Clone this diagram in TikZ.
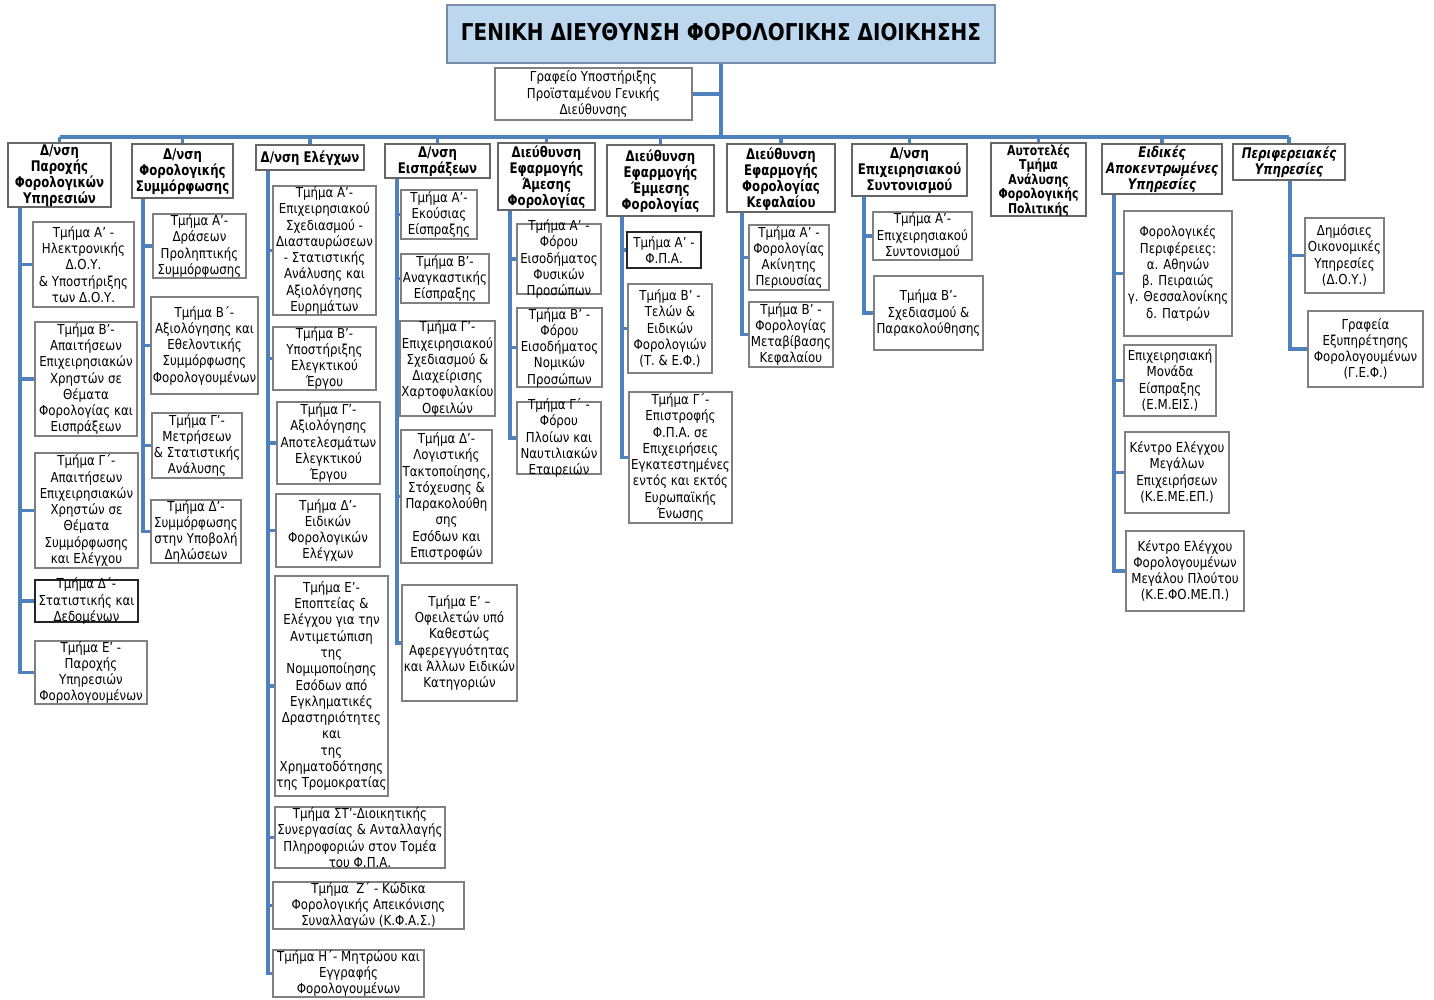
\documentclass[tikz,border=0pt]{standalone}
\usepackage{fontspec}
\setmainfont{DejaVu Sans}[FakeStretch=0.86]
\newfontfamily\hfont{DejaVu Sans}[FakeStretch=0.8]
\newfontfamily\tfont{DejaVu Sans}[FakeStretch=0.86]
\usetikzlibrary{fit}
\definecolor{conncol}{RGB}{79,129,189}
\definecolor{boxgray}{RGB}{128,128,128}
\definecolor{titlefill}{RGB}{189,215,238}
\definecolor{titleline}{RGB}{120,140,170}
\tikzset{
 box/.style={draw=boxgray, line width=1.3pt, fill=white, inner sep=0pt},
 txt/.style={inner sep=0pt, align=center, font=\fontsize{10.3}{12.2}\selectfont},
 kbox-plain/.style={box},
 kbox-blk/.style={box, draw=black!85, line width=1.1pt},
 kbox-hdr/.style={box, draw=black!60},
 kbox-hdri/.style={box, draw=black!60},
 kbox-hdr9/.style={box, draw=black!60},
 kbox-ttl/.style={box, draw=titleline, fill=titlefill},
 ktxt-plain/.style={txt},
 ktxt-blk/.style={txt},
 ktxt-hdr/.style={txt, font=\hfont\bfseries\fontsize{11}{12}\selectfont, yshift=-0.6pt},
 ktxt-hdri/.style={txt, font=\hfont\bfseries\itshape\fontsize{11}{12}\selectfont},
 ktxt-hdr9/.style={txt, font=\hfont\bfseries\fontsize{10.2}{10.8}\selectfont, yshift=-0.6pt},
 ktxt-ttl/.style={txt, font=\tfont\bfseries\fontsize{17.4}{20}\selectfont, yshift=1.5pt},
 conn/.style={draw=conncol, line width=2.3pt},
}
\newcommand\bx[7]{%
 \node[kbox-#1, fit={(#3,#4)(#5,#6)}] (#2) {};
 \node[ktxt-#1] (#2t) at (#2.center) {#7};}
\begin{document}
\begin{tikzpicture}[x=0.75pt,y=-0.75pt]
\useasboundingbox (0,0) rectangle (1434,999);
% title and office
\bx{ttl}{title}{447}{5}{995}{63}{ΓΕΝΙΚΗ ΔΙΕΥΘΥΝΣΗ ΦΟΡΟΛΟΓΙΚΗΣ ΔΙΟΙΚΗΣΗΣ}
\bx{plain}{gr}{495}{68}{692}{120}{Γραφείο Υποστήριξης\\Προϊσταμένου Γενικής\\Διεύθυνσης}
% headers
\bx{hdr}{h1}{8}{143}{111}{207}{Δ/νση\\Παροχής\\Φορολογικών\\Υπηρεσιών}
\bx{hdr}{h2}{132}{144}{233}{198}{Δ/νση\\Φορολογικής\\Συμμόρφωσης}
\bx{hdr}{h3}{256}{145}{364}{170}{Δ/νση Ελέγχων}
\bx{hdr}{h4}{385}{144}{490}{178}{Δ/νση\\Εισπράξεων}
\bx{hdr}{h5}{498}{143}{595}{210}{Διεύθυνση\\Εφαρμογής\\Άμεσης\\Φορολογίας}
\bx{hdr}{h6}{607}{145}{714}{216}{Διεύθυνση\\Εφαρμογής\\Έμμεσης\\Φορολογίας}
\bx{hdr}{h7}{727}{144}{835}{212}{Διεύθυνση\\Εφαρμογής\\Φορολογίας\\Κεφαλαίου}
\bx{hdr}{h8}{852}{144}{967}{196}{Δ/νση\\Επιχειρησιακού\\Συντονισμού}
\bx{hdr9}{h9}{991}{143}{1086}{216}{Αυτοτελές\\Τμήμα\\Ανάλυσης\\Φορολογικής\\Πολιτικής}
\bx{hdri}{h10}{1102}{144}{1222}{194}{Ειδικές\\Αποκεντρωμένες\\Υπηρεσίες}
\bx{hdri}{h11}{1233}{144}{1345}{180}{Περιφερειακές\\Υπηρεσίες}
% column 1
\bx{plain}{c11}{33}{222}{134}{307}{Τμήμα Α' -\\Ηλεκτρονικής\\Δ.Ο.Υ.\\\& Υποστήριξης\\των Δ.Ο.Υ.}
\bx{plain}{c12}{35}{322}{137}{436}{Τμήμα Β’-\\Απαιτήσεων\\Επιχειρησιακών\\Χρηστών σε\\Θέματα\\Φορολογίας και\\Εισπράξεων}
\bx{plain}{c13}{35}{453}{138}{568}{Τμήμα Γ΄-\\Απαιτήσεων\\Επιχειρησιακών\\Χρηστών σε\\Θέματα\\Συμμόρφωσης\\και Ελέγχου}
\bx{blk}{c14}{35}{580}{138}{622}{Τμήμα Δ΄-\\Στατιστικής και\\Δεδομένων}
\bx{plain}{c15}{35}{641}{147}{704}{Τμήμα Ε’ -\\Παροχής\\Υπηρεσιών\\Φορολογουμένων}
% column 2
\bx{plain}{c21}{153}{214}{246}{278}{Τμήμα Α’-\\Δράσεων\\Προληπτικής\\Συμμόρφωσης}
\bx{plain}{c22}{151}{297}{258}{394}{Τμήμα Β΄-\\Αξιολόγησης και\\Εθελοντικής\\Συμμόρφωσης\\Φορολογουμένων}
\bx{plain}{c23}{152}{413}{242}{478}{Τμήμα Γ’-\\Μετρήσεων\\\& Στατιστικής\\Ανάλυσης}
\bx{plain}{c24}{151}{500}{241}{563}{Τμήμα Δ’-\\Συμμόρφωσης\\στην Υποβολή\\Δηλώσεων}
% column 3
\bx{plain}{c31}{273}{186}{376}{315}{Τμήμα Α’-\\Επιχειρησιακού\\Σχεδιασμού -\\Διασταυρώσεων\\- Στατιστικής\\Ανάλυσης και\\Αξιολόγησης\\Ευρημάτων}
\bx{plain}{c32}{273}{327}{376}{390}{Τμήμα Β’-\\Υποστήριξης\\Ελεγκτικού\\Έργου}
\bx{plain}{c33}{277}{402}{380}{484}{Τμήμα Γ’-\\Αξιολόγησης\\Αποτελεσμάτων\\Ελεγκτικού\\Έργου}
\bx{plain}{c34}{276}{494}{380}{567}{Τμήμα Δ’-\\Ειδικών\\Φορολογικών\\Ελέγχων}
\bx{plain}{c35}{275}{576}{388}{796}{Τμήμα Ε’-\\Εποπτείας \&\\Ελέγχου για την\\Αντιμετώπιση\\της\\Νομιμοποίησης\\Εσόδων από\\Εγκληματικές\\Δραστηριότητες\\και\\της\\Χρηματοδότησης\\της Τρομοκρατίας}
\bx{plain}{c36}{275}{807}{445}{868}{Τμήμα ΣΤ’-Διοικητικής\\Συνεργασίας \& Ανταλλαγής\\Πληροφοριών στον Τομέα\\του Φ.Π.Α.}
\bx{plain}{c37}{273}{882}{464}{929}{Τμήμα\ \ Ζ΄ - Κώδικα\\Φορολογικής Απεικόνισης\\Συναλλαγών (Κ.Φ.Α.Σ.)}
\bx{plain}{c38}{273}{950}{424}{997}{Τμήμα Η΄- Μητρώου και\\Εγγραφής\\Φορολογουμένων}
% column 4
\bx{plain}{c41}{401}{190}{477}{239}{Τμήμα Α’-\\Εκούσιας\\Είσπραξης}
\bx{plain}{c42}{401}{254}{489}{303}{Τμήμα Β’-\\Αναγκαστικής\\Είσπραξης}
\bx{plain}{c43}{400}{321}{495}{416}{Τμήμα Γ’-\\Επιχειρησιακού\\Σχεδιασμού \&\\Διαχείρισης\\Χαρτοφυλακίου\\Οφειλών}
\bx{plain}{c44}{401}{430}{492}{563}{Τμήμα Δ’-\\Λογιστικής\\Τακτοποίησης,\\Στόχευσης \&\\Παρακολούθη\\σης\\Εσόδων και\\Επιστροφών}
\bx{plain}{c45}{402}{585}{517}{701}{Τμήμα Ε’ –\\Οφειλετών υπό\\Καθεστώς\\Αφερεγγυότητας\\και Άλλων Ειδικών\\Κατηγοριών}
% column 5
\bx{plain}{c51}{517}{224}{601}{294}{Τμήμα Α' -\\Φόρου\\Εισοδήματος\\Φυσικών\\Προσώπων}
\bx{plain}{c52}{517}{308}{602}{387}{Τμήμα Β' -\\Φόρου\\Εισοδήματος\\Νομικών\\Προσώπων}
\bx{plain}{c53}{517}{402}{601}{474}{Τμήμα Γ΄ -\\Φόρου\\Πλοίων και\\Ναυτιλιακών\\Εταιρειών}
% column 6
\bx{blk}{c61}{627}{232}{701}{268}{Τμήμα Α' -\\Φ.Π.Α.}
\bx{plain}{c62}{628}{284}{712}{373}{Τμήμα Β' -\\Τελών \&\\Ειδικών\\Φορολογιών\\(Τ. \& Ε.Φ.)}
\bx{plain}{c63}{629}{392}{732}{523}{Τμήμα Γ΄-\\Επιστροφής\\Φ.Π.Α. σε\\Επιχειρήσεις\\Εγκατεστημένες\\εντός και εκτός\\Ευρωπαϊκής\\Ένωσης}
% column 7
\bx{plain}{c71}{749}{225}{829}{290}{Τμήμα Α' -\\Φορολογίας\\Ακίνητης\\Περιουσίας}
\bx{plain}{c72}{749}{302}{833}{367}{Τμήμα Β' -\\Φορολογίας\\Μεταβίβασης\\Κεφαλαίου}
% column 8
\bx{plain}{c81}{873}{212}{972}{260}{Τμήμα Α’-\\Επιχειρησιακού\\Συντονισμού}
\bx{plain}{c82}{874}{276}{983}{350}{Τμήμα Β’-\\Σχεδιασμού \&\\Παρακολούθησης}
% column 10
\bx{plain}{c101}{1124}{211}{1232}{336}{Φορολογικές\\Περιφέρειες:\\α. Αθηνών\\β. Πειραιώς\\γ. Θεσσαλονίκης\\δ. Πατρών}
\bx{plain}{c102}{1124}{345}{1216}{416}{Επιχειρησιακή\\Μονάδα\\Είσπραξης\\(Ε.Μ.ΕΙΣ.)}
\bx{plain}{c103}{1125}{432}{1229}{513}{Κέντρο Ελέγχου\\Μεγάλων\\Επιχειρήσεων\\(Κ.Ε.ΜΕ.ΕΠ.)}
\bx{plain}{c104}{1126}{531}{1244}{611}{Κέντρο Ελέγχου\\Φορολογουμένων\\Μεγάλου Πλούτου\\(Κ.Ε.ΦΟ.ΜΕ.Π.)}
% column 11
\bx{plain}{c111}{1305}{218}{1384}{293}{Δημόσιες\\Οικονομικές\\Υπηρεσίες\\(Δ.Ο.Υ.)}
\bx{plain}{c112}{1308}{311}{1423}{387}{Γραφεία\\Εξυπηρέτησης\\Φορολογουμένων\\(Γ.Ε.Φ.)}
% connectors
\coordinate (bus) at (720,137);
\draw[conn] (title.south) -- (title.south |- bus);
\draw[conn] (gr.east) -- (gr.east -| title.south);
\draw[conn] (h1.north |- bus) -- (h11.north |- bus);
\foreach \h in {h1,h2,h3,h4,h5,h6,h7,h8,h9,h10,h11}
  \draw[conn] (\h.north |- bus) -- (\h.north);
\coordinate (s1) at (20,0);
\coordinate (s2) at (143,0);
\coordinate (s3) at (268,0);
\coordinate (s4) at (397,0);
\coordinate (s5) at (510,0);
\coordinate (s6) at (622,0);
\coordinate (s7) at (742,0);
\coordinate (s8) at (864,0);
\coordinate (s10) at (1114,0);
\coordinate (s11) at (1290,0);
\foreach \h/\s/\c in {h1/s1/c15, h2/s2/c24, h3/s3/c38, h4/s4/c45, h5/s5/c53, h6/s6/c63, h7/s7/c72, h8/s8/c82, h10/s10/c104, h11/s11/c112}
  \draw[conn] (\h.south -| \s) |- (\c.west);
\foreach \s/\c in {s1/c11, s1/c12, s1/c13, s1/c14, s2/c21, s2/c22, s2/c23, s3/c31, s3/c32, s3/c33, s3/c34, s3/c35, s3/c36, s3/c37, s4/c41, s4/c42, s4/c43, s4/c44, s5/c51, s5/c52, s6/c61, s6/c62, s7/c71, s8/c81, s10/c101, s10/c102, s10/c103, s11/c111}
  \draw[conn] (\s |- \c.west) -- (\c.west);
\end{tikzpicture}
\end{document}
